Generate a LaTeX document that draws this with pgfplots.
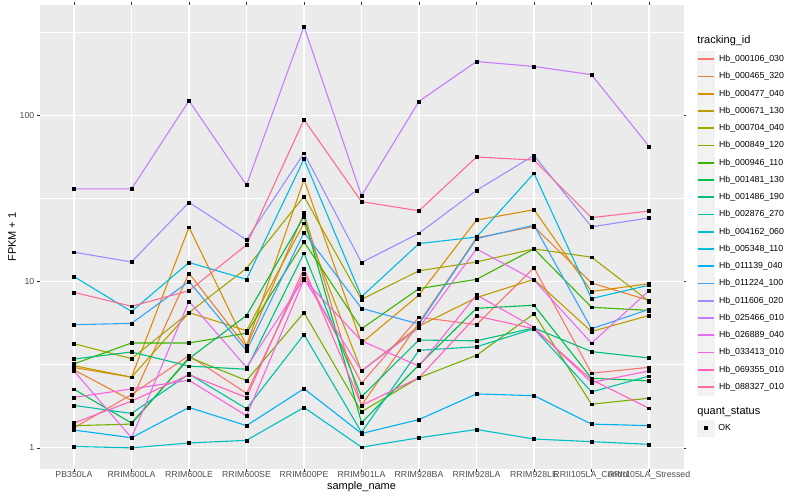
\documentclass[border=0pt]{standalone}
\usepackage{pgfplots}
\pgfplotsset{compat=1.18}
\usepackage{pgfplotstable}
\usepackage{fontspec}
\setmainfont{Liberation Sans}
\definecolor{c1}{HTML}{F8766D}
\definecolor{c2}{HTML}{EA8331}
\definecolor{c3}{HTML}{D89000}
\definecolor{c4}{HTML}{C09B00}
\definecolor{c5}{HTML}{A3A500}
\definecolor{c6}{HTML}{7CAE00}
\definecolor{c7}{HTML}{39B600}
\definecolor{c8}{HTML}{00BB4E}
\definecolor{c9}{HTML}{00BF7D}
\definecolor{c10}{HTML}{00C1A3}
\definecolor{c11}{HTML}{00BFC4}
\definecolor{c12}{HTML}{00BAE0}
\definecolor{c13}{HTML}{00B0F6}
\definecolor{c14}{HTML}{35A2FF}
\definecolor{c15}{HTML}{9590FF}
\definecolor{c16}{HTML}{C77CFF}
\definecolor{c17}{HTML}{E76BF3}
\definecolor{c18}{HTML}{FA62DB}
\definecolor{c19}{HTML}{FF62BC}
\definecolor{c20}{HTML}{FF6C91}
\definecolor{panel}{HTML}{EBEBEB}
\definecolor{legkey}{HTML}{F2F2F2}
\definecolor{tickc}{HTML}{333333}
\definecolor{labc}{HTML}{4D4D4D}

\pgfplotstableread{
x s1 s2 s3 s4 s5 s6 s7 s8 s9 s10 s11 s12 s13 s14 s15 s16 s17 s18 s19 s20
0 1.32 2.94 3.04 3.12 4.23 1.36 3.2 2.25 3.42 1.80 1.02 10.7 1.28 5.5 15.0 36 2.9 2.01 1.41 8.6
1 2.09 1.93 2.66 2.66 3.44 1.39 4.27 1.41 3.77 1.61 1.0 6.6 1.15 5.6 13.1 36 1.15 2.26 1.91 7.1
2 3.59 11.2 21.2 6.5 6.5 3.5 4.27 3.44 3.1 2.78 1.07 13.0 1.75 10.0 29.9 122 7.6 2.55 2.75 8.8
3 2.13 4.02 4.11 5.06 12.0 2.54 4.89 6.25 2.97 1.72 1.11 10.3 1.36 3.84 17.8 38 3.05 1.56 2.01 16.6
4 11.2 25.8 41 22.4 32.5 6.5 17.3 24.5 14.8 4.8 1.75 54.4 2.27 19.7 59 341 10.4 10.3 12.0 94
5 2.45 1.80 4.26 2.90 7.8 1.65 5.2 1.42 2.03 1.24 1.01 8.1 1.22 6.9 13.0 32.8 2.9 4.4 1.80 30.2
6 6.1 5.65 8.3 5.4 11.6 2.64 9.06 3.15 4.45 3.86 1.15 16.9 1.48 5.55 19.5 121 5.26 3.1 2.64 26.6
7 5.5 18.3 23.4 8.0 13.1 3.6 10.3 6.9 4.4 4.05 1.29 18.5 2.11 18.1 35.3 210 15.7 8.3 6.2 56
8 12.1 21.4 27.0 10.3 15.7 6.4 15.7 7.2 5.26 5.2 1.13 44.7 2.06 21.8 57.3 196 10.2 5.3 5.2 53.7
9 2.81 9.8 8.7 5.0 14.0 1.83 7.0 2.62 3.79 2.17 1.09 7.9 1.39 5.2 21.3 175 4.26 2.47 2.57 24.2
10 3.05 7.7 9.7 6.25 7.6 1.99 6.7 2.53 3.47 2.7 1.05 9.5 1.36 6.8 24.1 64.9 8.8 2.9 1.73 26.5
}\data

\begin{document}
\begin{tikzpicture}
\path[use as bounding box] (0,0) rectangle (800bp,500bp);
\begin{axis}[
  at={(39.5bp,31bp)}, anchor=south west,
  width=644bp, height=464bp, scale only axis,
  ymode=log, ymin=0.7466, ymax=459,
  xmin=-0.6, xmax=10.6,
  xtick={0,...,10},
  xticklabels={PB350LA,RRIM600LA,RRIM600LE,RRIM600SE,RRIM600PE,RRIM901LA,RRIM928BA,RRIM928LA,RRIM928LE,RRII105LA\_Control,RRII105LA\_Stressed},
  ytick={1,10,100}, yticklabels={1,10,100},
  minor ytick={3.16228,31.6228,316.228},
  minor x tick num=0,
  xmajorgrids, ymajorgrids, yminorgrids,
  major grid style={white, line width=1.07bp},
  minor grid style={white, line width=0.53bp},
  axis background/.style={fill=panel},
  axis line style={draw=none},
  tick align=outside,
  major tick length=2.75bp, minor tick length=0pt,
  tick style={tickc, line width=0.53bp},
  every tick label/.append style={font=\fontsize{8.8}{10}\selectfont, text=labc},
  xticklabel style={inner sep=0pt, yshift=0.4bp},
  yticklabel style={inner sep=0pt, xshift=-2.2bp},
  /pgf/number format/assume math mode=true,
  xlabel={sample\_name}, ylabel={FPKM + 1},
  label style={font=\fontsize{11}{13}\selectfont},
  xlabel style={at={(axis description cs:0.5,-0.0388)}, anchor=center},
  ylabel style={at={(axis description cs:-0.0427,0.5)}, anchor=center},
  clip=false,
  legend cell align=left,
  legend style={at={(1.0214,0.9018)}, anchor=north west, draw=none, fill=none,
    inner sep=0pt, outer sep=0pt, row sep=-0.13bp,
    font=\fontsize{8.8}{10}\selectfont,
    nodes={inner sep=0pt, outer sep=0pt},
    /tikz/every odd column/.append style={column sep=4.4bp}},
  legend image code/.code={
    \fill[legkey] (0bp,-8.14bp) rectangle (16.28bp,8.14bp);
    \draw[line width=1.6bp] (0.4bp,0bp) -- (15.88bp,0bp);},
  legend entries={Hb\_000106\_030,Hb\_000465\_320,Hb\_000477\_040,Hb\_000671\_130,Hb\_000704\_040,Hb\_000849\_120,Hb\_000946\_110,Hb\_001481\_130,Hb\_001486\_190,Hb\_002876\_270,Hb\_004162\_060,Hb\_005348\_110,Hb\_011139\_040,Hb\_011224\_100,Hb\_011606\_020,Hb\_025466\_010,Hb\_026889\_040,Hb\_033413\_010,Hb\_069355\_010,Hb\_088327\_010},
]
\pgfplotsinvokeforeach{1,...,20}{
  \addplot[color=c#1, line width=1.1bp, mark=none] table[x=x,y=s#1]{\data};
}
\pgfplotsinvokeforeach{1,...,20}{
  \addplot[only marks, mark=square*, mark size=1.4bp, black, forget plot] table[x=x,y=s#1]{\data};
}
\node[anchor=west, font=\fontsize{11}{13}\selectfont, inner sep=0pt] at (axis description cs:1.0214,0.9235) {tracking\_id};
\node[anchor=west, font=\fontsize{11}{13}\selectfont, inner sep=0pt] at (axis description cs:1.0214,0.1235) {quant\_status};
\end{axis}
\begin{axis}[
  at={(39.5bp,31bp)}, anchor=south west,
  width=644bp, height=464bp, scale only axis,
  hide axis, xmin=0, xmax=1, ymin=0, ymax=1,
  legend cell align=left,
  legend style={at={(1.0214,0.1065)}, anchor=north west, draw=none, fill=none,
    inner sep=0pt, outer sep=0pt, row sep=0pt,
    font=\fontsize{8.8}{10}\selectfont,
    nodes={inner sep=0pt, outer sep=0pt},
    /tikz/every odd column/.append style={column sep=4.4bp}},
  legend image code/.code={
    \fill[legkey] (0bp,-8.14bp) rectangle (16.28bp,8.14bp);
    \draw[black, mark=square*, mark size=1.4bp] plot coordinates {(8.14bp,0bp)};},
]
\addlegendimage{only marks, mark=square*, black}
\addlegendentry{OK}
\end{axis}
\end{tikzpicture}
\end{document}
